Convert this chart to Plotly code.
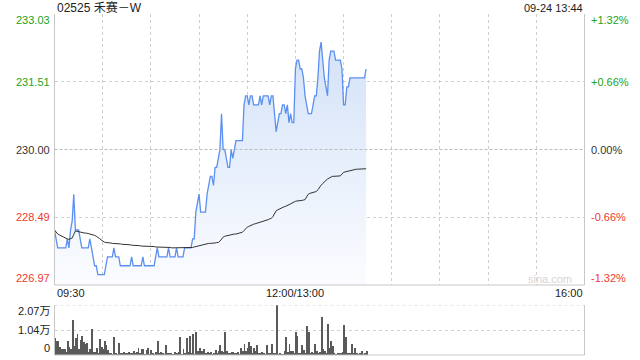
import plotly.graph_objects as go

# ---------------- data ----------------
title_text = "02525 禾赛－W"
stamp_text = "09-24 13:44"
pre_close = 230.00
price_ticks = [233.03, 231.51, 230.00, 228.49, 226.97]
pct_labels = ["+1.32%", "+0.66%", "0.00%", "-0.66%", "-1.32%"]
time_tick_pos = [0, 150, 330]
time_tick_labels = ["09:30", "12:00/13:00", "16:00"]
grid_minutes = [30, 60, 90, 120, 150, 180, 210, 240, 270, 300]
vol_ticks = [20700, 10350, 0]
vol_labels = ["2.07万", "1.04万", "0"]
watermark = "sina.com"

# one value per trading minute from 09:30 to 13:44 (lunch break skipped)
price = [
    228.2, 228.0, 227.8, 227.8, 227.8, 227.8, 227.8, 227.8, 228.0, 227.8,
    228.2, 228.4, 229.0, 228.2, 228.2, 228.2, 228.0, 227.8, 227.8, 227.8,
    227.8, 227.8, 228.0, 227.8, 227.6, 227.4, 227.4, 227.2, 227.2, 227.2,
    227.2, 227.2, 227.4, 227.6, 227.6, 227.6, 227.6, 227.8, 227.6, 227.6,
    227.6, 227.4, 227.4, 227.4, 227.4, 227.4, 227.4, 227.4, 227.6, 227.4,
    227.4, 227.4, 227.4, 227.4, 227.4, 227.6, 227.4, 227.4, 227.4, 227.4,
    227.4, 227.4, 227.4, 227.6, 227.8, 227.6, 227.6, 227.6, 227.6, 227.6,
    227.6, 227.8, 227.6, 227.6, 227.6, 227.6, 227.8, 227.6, 227.6, 227.6,
    227.6, 227.8, 227.8, 227.8, 227.8, 227.8, 228.0, 228.0, 228.6, 228.8,
    229.0, 228.6, 228.6, 228.6, 228.6, 229.0, 229.2, 229.4, 229.4, 229.2,
    229.6, 229.6, 229.8, 230.0, 230.8, 230.0, 230.0, 229.8, 229.6, 229.6,
    230.0, 229.8, 230.0, 230.2, 230.2, 230.2, 230.2, 230.2, 231.0, 231.2,
    231.2, 231.0, 231.2, 231.2, 231.0, 231.0, 231.0, 231.0, 231.2, 231.0,
    231.2, 231.2, 231.2, 231.2, 231.0, 231.2, 231.2, 230.8, 230.4, 230.6,
    230.8, 230.8, 231.0, 231.0, 230.8, 231.0, 230.6, 230.8, 230.6, 230.6,
    231.8, 232.0, 232.0, 231.8, 231.8, 231.6, 231.2, 231.0, 230.8, 230.8,
    230.8, 231.0, 231.2, 231.2, 231.6, 232.2, 232.4, 232.0, 231.6, 231.4,
    231.2, 232.0, 232.2, 232.2, 232.2, 232.0, 232.0, 232.0, 232.0, 231.8,
    231.0, 231.0, 231.4, 231.4, 231.6, 231.6, 231.6, 231.6, 231.6, 231.6,
    231.6, 231.6, 231.6, 231.6, 231.8,
]

avg_price = [
    228.20, 228.14, 228.11, 228.09, 228.07, 228.05, 228.04, 228.02, 228.00, 227.99,
    228.00, 228.02, 228.10, 228.18, 228.17, 228.16, 228.15, 228.14, 228.14, 228.13,
    228.13, 228.12, 228.12, 228.11, 228.10, 228.08, 228.06, 228.04, 228.01, 227.98,
    227.95, 227.93, 227.92, 227.92, 227.91, 227.91, 227.90, 227.90, 227.90, 227.89,
    227.89, 227.89, 227.88, 227.88, 227.88, 227.87, 227.87, 227.87, 227.86, 227.86,
    227.86, 227.85, 227.85, 227.85, 227.84, 227.84, 227.84, 227.84, 227.83, 227.83,
    227.83, 227.83, 227.83, 227.82, 227.82, 227.82, 227.82, 227.81, 227.81, 227.81,
    227.81, 227.81, 227.81, 227.80, 227.80, 227.80, 227.80, 227.80, 227.80, 227.80,
    227.80, 227.80, 227.80, 227.80, 227.80, 227.80, 227.81, 227.82, 227.83, 227.84,
    227.85, 227.86, 227.87, 227.88, 227.89, 227.89, 227.90, 227.90, 227.90, 227.91,
    227.91, 227.92, 227.92, 227.95, 228.00, 228.04, 228.06, 228.07, 228.08, 228.09,
    228.10, 228.10, 228.11, 228.11, 228.12, 228.12, 228.13, 228.15, 228.19, 228.23,
    228.26, 228.28, 228.30, 228.32, 228.33, 228.34, 228.35, 228.36, 228.37, 228.38,
    228.40, 228.41, 228.42, 228.43, 228.45, 228.46, 228.50, 228.58, 228.63, 228.65,
    228.67, 228.69, 228.70, 228.72, 228.73, 228.75, 228.77, 228.79, 228.81, 228.83,
    228.84, 228.85, 228.85, 228.86, 228.86, 228.87, 228.88, 228.94, 229.00, 229.02,
    229.03, 229.04, 229.05, 229.06, 229.10, 229.16, 229.20, 229.24, 229.28, 229.32,
    229.34, 229.36, 229.38, 229.40, 229.40, 229.40, 229.41, 229.41, 229.41, 229.45,
    229.49, 229.50, 229.51, 229.52, 229.53, 229.54, 229.55, 229.55, 229.56, 229.56,
    229.56, 229.57, 229.57, 229.57, 229.57,
]

volume = [
    7200, 5800, 5800, 3400, 2400, 2400, 2500, 1200, 5800, 3400,
    2600, 14500, 3900, 6900, 8700, 2600, 6200, 7900, 5500, 4400,
    4800, 1400, 2500, 10700, 1400, 1100, 2800, 900, 6600, 3400,
    2500, 5800, 4100, 2000, 700, 500, 300, 7450, 1000, 300,
    4800, 800, 600, 1400, 1000, 800, 1100, 600, 500, 1700,
    600, 1200, 2700, 600, 2400, 2600, 400, 2200, 3100, 400,
    2000, 1000, 300, 1100, 5800, 1000, 1200, 900, 300, 4100,
    500, 800, 600, 200, 300, 1300, 500, 1200, 7600, 200,
    2400, 600, 7200, 1200, 8000, 900, 8500, 400, 9400, 1800,
    2700, 1700, 1500, 2500, 600, 1400, 900, 1100, 400, 700,
    2100, 500, 1700, 4000, 1500, 1300, 9400, 1500, 700, 500,
    1100, 1100, 500, 600, 1200, 400, 2900, 1700, 4400, 1600,
    3000, 5200, 3900, 1000, 2700, 1700, 4000, 600, 700, 1200,
    800, 400, 4100, 600, 700, 4400, 1000, 600, 20700, 300,
    1000, 300, 400, 1600, 7600, 1400, 4400, 1500, 1600, 800,
    9400, 8000, 600, 600, 4100, 2200, 900, 12000, 9400, 500,
    1200, 800, 4700, 1500, 1000, 1200, 15700, 2300, 1700, 500,
    12800, 2800, 5600, 3600, 800, 400, 700, 800, 500, 1300,
    12400, 7600, 800, 600, 500, 4400, 1000, 2700, 800, 400,
    600, 1500, 400, 700, 1500,
]

minutes = list(range(len(price)))

# ---------------- layout geometry ----------------
W, H = 640, 360
X0, X1 = 54.5 / W, 584.5 / W
PY0, PY1 = (H - 285) / H, (H - 14) / H
VY0, VY1 = (H - 355) / H, (H - 305) / H

FONT = "Liberation Sans, Arial, Noto Sans CJK SC, sans-serif"
GREEN = "#22a322"
RED = "#ee3a2e"
DARK = "#333333"
GRID = "#cfcfcf"
FRAME = "#c8c8c8"

fig = go.Figure()
fig.add_trace(go.Scatter(
    x=minutes, y=price, mode="lines",
    line=dict(color="#5b8ff0", width=1.3),
    fill="tozeroy",
    fillgradient=dict(type="vertical",
                      colorscale=[[0, "#fbfcff"], [1, "#d3e2f8"]],
                      start=price_ticks[-1], stop=max(price)),
    hoverinfo="skip", xaxis="x", yaxis="y",
))
fig.add_trace(go.Scatter(
    x=minutes, y=avg_price, mode="lines",
    line=dict(color="#333333", width=1),
    hoverinfo="skip", xaxis="x", yaxis="y",
))
fig.add_trace(go.Bar(
    x=minutes, y=volume, width=0.6,
    marker=dict(color="#5a5a5a", line=dict(width=0)),
    hoverinfo="skip", xaxis="x2", yaxis="y2",
))

fig.update_layout(
    width=W, height=H, margin=dict(l=0, r=0, t=0, b=0),
    paper_bgcolor="white", plot_bgcolor="white", showlegend=False,
    font=dict(family=FONT, size=11, color=DARK),
    bargap=0,
    xaxis=dict(domain=[X0, X1], range=[0, 330], tickvals=grid_minutes,
               showticklabels=False, ticks="", showgrid=True, gridcolor=GRID,
               griddash="dot", gridwidth=1, zeroline=False, showline=False,
               anchor="y"),
    yaxis=dict(domain=[PY0, PY1], range=[price_ticks[-1], price_ticks[0]],
               tickvals=[price_ticks[1], price_ticks[3]], showticklabels=False,
               ticks="", showgrid=True, gridcolor=GRID, griddash="dot",
               zeroline=False, showline=False, anchor="x"),
    xaxis2=dict(domain=[X0, X1], range=[0, 330], anchor="y2", showgrid=False,
                showticklabels=False, ticks="", zeroline=False, showline=False),
    yaxis2=dict(domain=[VY0, VY1], range=[0, vol_ticks[0]], anchor="x2",
                tickvals=[vol_ticks[1]], showticklabels=False, ticks="",
                showgrid=True, gridcolor=GRID, griddash="dot",
                zeroline=False, showline=False),
)

shapes = []
# main frame: left, right, bottom
for xx in (X0, X1):
    shapes.append(dict(type="line", xref="paper", yref="paper", x0=xx, x1=xx,
                       y0=PY0, y1=PY1, line=dict(color=FRAME, width=1)))
    shapes.append(dict(type="line", xref="paper", yref="paper", x0=xx, x1=xx,
                       y0=VY0, y1=VY1, line=dict(color=FRAME, width=1)))
shapes.append(dict(type="line", xref="paper", yref="paper", x0=X0, x1=X1,
                   y0=PY0, y1=PY0, line=dict(color=FRAME, width=1)))
shapes.append(dict(type="line", xref="paper", yref="paper", x0=X0, x1=X1,
                   y0=VY0, y1=VY0, line=dict(color=FRAME, width=1)))
# pre-close reference line
shapes.append(dict(type="line", xref="paper", yref="y", x0=X0, x1=X1,
                   y0=pre_close, y1=pre_close,
                   line=dict(color="#bdbdbd", width=1, dash="3px,2px")))
# volume top dotted line
shapes.append(dict(type="line", xref="paper", yref="y2", x0=X0, x1=X1,
                   y0=vol_ticks[0], y1=vol_ticks[0],
                   line=dict(color=GRID, width=1, dash="dot")))
fig.update_layout(shapes=shapes)

ann = []
ann.append(dict(text=title_text, xref="paper", yref="paper", x=X0, y=(H - 7.5) / H,
                xanchor="left", yanchor="middle", showarrow=False,
                font=dict(size=12, color="#222222")))
ann.append(dict(text=stamp_text, xref="paper", yref="paper", x=584.5 / W, y=(H - 7.5) / H,
                xanchor="right", yanchor="middle", showarrow=False,
                font=dict(size=11, color="#222222")))

n = len(price_ticks)
for i, (v, pl) in enumerate(zip(price_ticks, pct_labels)):
    if v > pre_close + 1e-9:
        col = GREEN
    elif v < pre_close - 1e-9:
        col = RED
    else:
        col = DARK
    shift = -6 if i == 0 else (7 if i == n - 1 else 0)
    ann.append(dict(text=f"{v:.2f}", xref="paper", yref="y", x=52 / W, y=v,
                    yshift=shift, xanchor="right", yanchor="middle",
                    showarrow=False, font=dict(size=11, color=col)))
    ann.append(dict(text=pl, xref="paper", yref="y", x=589 / W, y=v,
                    yshift=shift, xanchor="left", yanchor="middle",
                    showarrow=False, font=dict(size=11, color=col)))

anchors = ["left", "center", "right"]
for pos, lab, anc in zip(time_tick_pos, time_tick_labels, anchors):
    ann.append(dict(text=lab, xref="x", yref="paper", x=pos, y=(H - 293) / H,
                    xanchor=anc, yanchor="middle", showarrow=False,
                    font=dict(size=11, color="#222222")))

nv = len(vol_ticks)
for i, (v, lab) in enumerate(zip(vol_ticks, vol_labels)):
    shift = -6 if i == 0 else (7 if i == nv - 1 else 0)
    ann.append(dict(text=lab, xref="paper", yref="y2", x=52 / W, y=v,
                    yshift=shift, xanchor="right", yanchor="middle",
                    showarrow=False, font=dict(size=11, color="#222222")))

ann.append(dict(text=watermark, xref="paper", yref="paper", x=574 / W, y=(H - 279) / H,
                xanchor="right", yanchor="middle", showarrow=False,
                font=dict(size=11, color="#d6d6d6")))
fig.update_layout(annotations=ann)

fig.write_html("out.html")
